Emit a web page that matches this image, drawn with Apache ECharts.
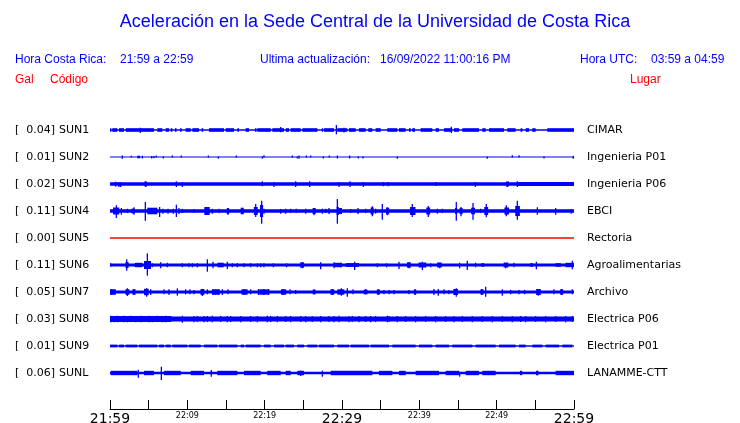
<!DOCTYPE html>
<html>
<head>
<meta charset="utf-8">
<script src="https://cdn.jsdelivr.net/npm/echarts@6/dist/echarts.min.js"></script>
<style>
html,body{margin:0;padding:0;background:#fff;}
#chart{width:740px;height:423px;}
</style>
</head>
<body>
<div id="chart"></div>
<script>
// ---------------- DATA ----------------
const stations = ['SUN1','SUN2','SUN3','SUN4','SUN5','SUN6','SUN7','SUN8','SUN9','SUNL'];
const places = ['CIMAR','Ingenieria P01','Ingenieria P06','EBCI','Rectoria','Agroalimentarias','Archivo','Electrica P06','Electrica P01','LANAMME-CTT'];
const galValues = ['0.04','0.01','0.02','0.11','0.00','0.11','0.05','0.03','0.01','0.06'];
const tickLabels = ['21:59','22:09','22:19','22:29','22:39','22:49','22:59'];
const majorLabels = ['21:59','22:29','22:59'];
// minutes after 21:59 ; trace half-widths (axis units)
const baseHalf = [0.65, 0.6, 1.8, 1.7, 0.75, 1.5, 1.5, 2.4, 0.8, 1.3];
const burstHalf = [1.8, 1.3, 2.1, 0, 0, 0, 0, 3.0, 1.4, 2.2];

// bursts: [t0, t1] or [t0, t1, half]
const burstsSUN1 = [[0,0.17],[0.3,0.95],[1.16,1.81],[2.03,5.69],[6.12,6.77],[7.2,7.63],[7.85,8.06],[8.4,8.6],[9.05,9.25],[9.78,10.43],[10.65,11.51],[11.85,12.05],[12.8,14.74],[14.96,16.03],[16.46,16.68],[17.54,17.98],[18.75,18.95],[19.05,20.78],[20.99,22.5],[22.72,23.15],[23.36,24.66],[24.87,26.81],[27.4,27.55],[27.68,28.97],[29.4,30.69],[30.9,31.77],[32.2,33.06],[33.4,33.92],[34.35,35],[35.86,37.15],[37.37,38.23],[38.66,38.88],[39.09,39.44],[40.17,41.68],[42.11,42.54],[43.19,44.27],[44.48,45.13],[45.56,47.71],[48.14,48.58],[49.01,50.95],[51.38,52.45],[53.1,53.32],[53.75,54.18],[54.61,55.04],[56.55,60]];
const burstsSUN2 = [[3.53,3.88]];
const burstsSUN3 = [[4.45,4.75,2.5],[51.2,51.6,2.5],[52.7,60]];
const burstsSUN4 = [[0.4,1.2,3.5],[2.8,3.2,2.5],[4.83,6.12,3.3],[12.2,12.9,4],[15.1,15.4,3],[16.9,17.3,3.3],[18.6,19.1,4],[19.4,19.8,6],[26.2,26.6,3],[29.3,29.6,4],[29.6,30.0,3],[33.7,34.1,3.5],[35.7,36.1,3.3],[38.8,39.5,4],[40.9,41.4,3.5],[44.6,44.9,3],[45.2,45.6,3],[46.7,47.2,3.3],[48.4,48.9,4],[51.0,51.6,3.5],[52.4,53.0,5]];
const burstsSUN5 = [];
const burstsSUN6 = [[2.0,2.4,3],[3.2,4.2,2.2],[4.4,5.3,4],[13.9,14.7,2.3],[24.6,25.1,2.7],[29.0,30.0,2.2],[30.5,32.2,1.9],[38.4,38.9,2.7],[39.9,40.9,2.5],[42.3,42.9,2.5],[48.0,48.4,1.8],[50.9,51.5,2.5],[54.3,54.7,1.8],[57.6,58.3,1.8],[58.9,60,2.2]];
const burstsSUN7 = [[0,0.75,2.8],[2.0,2.5,2.8],[2.9,3.3,2.8],[4.4,5.0,3.2],[11.7,12.2,3],[13.2,14.2,2.7],[17.0,17.8,2.7],[19.3,20.6,2.7],[22.1,22.8,2.7],[26.2,26.6,2.3],[28.5,29.0,2.7],[29.4,30.3,2.7],[32.8,33.3,2.3],[34.5,34.9,2.5],[39.3,39.6,2.5],[44.4,45.0,3],[47.9,48.3,2.7],[55.1,55.7,3],[58.2,58.6,2.7]];
const burstsSUN8 = [[0,7.9]];
const burstsSUN9 = [[0,0.95],[1.16,1.81],[2.03,3.53],[3.75,6.12],[6.34,6.98],[7.2,7.85],[8.06,10],[10.21,11.72],[12.16,13.88],[14.09,16.46],[16.9,17.33],[17.54,19.48],[19.91,20.78],[21.21,22.5],[22.72,23.79],[24.22,25.09],[25.52,26.81],[27.03,28.97],[29.4,30.9],[31.12,33.49],[33.7,36.08],[36.51,39.52],[39.95,41.68],[42.11,43.83],[44.27,46.85],[47.28,49.87],[50.3,52.45],[52.89,53.75],[54.61,55.9],[56.33,58.06],[58.49,59.78]];
const burstsSUNL = [[0.09,3.53],[4.4,5.69],[6.98,9.14],[10.43,12.16],[13.88,16.46],[17.33,19.48],[20.34,22.07],[22.72,23.36],[24.22,25.09],[28.54,33.92],[34.78,36.51],[37.37,38.23],[39.52,42.54],[43.4,45.13],[45.99,47.71],[48.14,49.87],[53.0,53.3],[55.1,55.4],[57.63,60]];

// spikes: [t, up, down]
const spikesSUN1 = [[3.92,2.3,3],[22.07,3,2.3],[29.27,5,4.3],[30.26,2.3,2.5],[44.14,3.3,3]];
const spikesSUN2 = [[1.59,1.5,1.7],[2.76,1.2,0.6],[4.18,1.2,1.5],[5.39,0.9,1.5],[5.69,0.9,1.2],[5.99,1.5,0.6],[6.9,0,1.5],[8.06,1.5,0.6],[9.22,1.5,0.6],[12.72,1.5,0.6],[14.01,0,1.8],[16.34,1.5,0.6],[19.7,0,1.8],[19.91,1.8,0.6],[23.58,1.5,0.6],[24.22,0,1.5],[24.44,1.5,1.8],[25.39,1.5,0.6],[25.95,1.5,0.6],[27.59,0,1.5],[28.36,1.5,0.6],[29.4,1.5,1.5],[30.99,1.5,1.5],[32.11,0,1.5],[32.71,0,1.5],[37.15,0,1.8],[48.79,0,1.8],[52.02,1.8,0],[52.89,1.8,0],[56.12,0,1.5],[59.91,1.2,1.8]];
const spikesSUN3 = [[0.73,2.3,2.7],[1.16,1.7,3],[1.38,1,3],[4.61,2.7,3],[8.58,2.7,3],[9.35,2,3],[19.7,2.7,2.3],[21.21,0.7,3],[24.01,2.7,3],[25.82,2.7,3],[29.61,2,3],[31.03,2.7,3],[32.76,2,3],[35.34,2,2.3],[35.99,2,2.3],[42.2,2,2],[47.24,2,3],[51.38,2.3,3],[52.67,2.7,3]];
const spikesSUN4 = [[0.82,5.7,7],[1.47,3,3.7],[2.24,2.3,2],[3.1,3.7,3.7],[4.57,9,9.7],[6.42,4,6],[6.85,2.3,2.7],[7.5,2.3,2.7],[8.19,2.3,2.7],[8.58,6.3,6],[8.92,3,3],[9.35,2.3,2],[10.86,2,1.3],[13.23,2.3,2.7],[14.09,2.3,2],[15.26,3,3.7],[18.84,7,6],[19.61,10.3,12.7],[19.91,2.3,2.7],[22.07,2,2.7],[22.72,2.3,2.7],[23.36,2.3,2],[24.09,2.3,2],[25.3,2.3,2.7],[26.38,3,4.3],[27.46,2.3,2.7],[27.89,2.3,2],[28.32,3,3],[29.4,12,12.7],[31.12,2,2],[32.07,3,3],[33.06,2.3,2],[33.92,4.7,5.3],[34.35,2.3,2.7],[35.21,7,8.7],[35.86,3.7,4.3],[39.09,7,6],[41.16,5,6],[42.33,2.3,2.7],[42.97,2.3,2],[44.78,9,9.7],[45.39,4,5.3],[46.94,8,8.7],[47.93,2.3,2],[48.66,7,6.3],[51.25,5.7,5.3],[52.67,10.3,8.7],[55.26,3.7,3.7],[57.63,3,3.7],[59.65,1.3,2.7]];
const spikesSUN5 = [];
const spikesSUN6 = [[0.1,1.7,1.7],[2.16,5.7,5.7],[4.83,11.7,10.7],[5.47,1.7,2.3],[6.55,2.7,3.3],[7.41,2.3,2.3],[9.35,1.7,2.3],[10.2,1.7,2.3],[10.65,1.7,2.3],[11.3,1.7,2.3],[12.59,5.7,6.7],[13.32,3.3,3.3],[15.17,3.3,4],[15.82,1.7,2.3],[16.46,1.7,2.3],[17.33,1.7,2.3],[18.19,1.7,2.3],[19.05,1.7,2.3],[19.48,1.7,2.3],[19.91,1.7,2.3],[21.12,1.7,2.3],[22.84,1.7,2.3],[24.87,2.7,3.3],[27.24,2.7,4.3],[28.97,2.7,3.3],[29.83,2.3,2.3],[31.64,3.3,5],[34.57,1.7,2.3],[35.77,1.7,2.3],[37.37,3.3,4],[38.66,2.7,3.3],[40.39,3.3,5],[41.46,1.7,2.3],[42.63,2.3,3.3],[45.21,2.3,3.3],[46.2,4.3,5],[47.28,2.3,2.3],[51.16,1.7,3.3],[52.24,2.3,2.3],[55.13,3.3,4.3],[59.78,4.3,4.3]];
const spikesSUN7 = [[0.2,2.7,3],[2.24,3.7,4],[3.1,2.7,3],[4.74,3.7,4.7],[5.26,2.7,3],[6.98,2.7,2.3],[7.63,2.7,3],[8.71,3.7,3.7],[9.78,2.7,2.3],[10.34,2.7,2.3],[10.86,2,2.3],[11.94,3,4],[12.59,2.7,2.3],[13.3,2.7,3],[13.66,2.7,3],[14.0,2.7,3],[14.53,2.7,3],[15.26,2.7,2.3],[17.33,3,3],[18.19,2.7,2.3],[19.2,3,3],[19.91,3,3],[20.5,3,3],[22.41,3,3],[23.28,2.7,2.3],[24.01,2,2],[26.38,2.7,2.3],[28.75,3,3],[29.91,3.7,3.7],[30.69,3.7,4.7],[31.42,2.7,2.3],[33.06,3,2.3],[34.7,2.7,3],[35.43,2,2.3],[36.08,2,2.3],[36.72,2,2.3],[38.66,2,2.3],[39.44,2.7,3],[41.89,3,3],[42.45,3,3.7],[43.19,2.7,2.3],[43.83,2,2.3],[44.78,3.7,4.7],[48.06,3,3],[48.58,5.3,4.7],[50.73,2.7,3.7],[51.81,2,2.3],[52.89,2,2.3],[53.62,2,2.3],[55.39,3,3.7],[57.41,2.7,2.3],[58.4,3,3],[59.78,2.7,2.3]];
const spikesSUN8 = [[0.09,3.3,3.3],[0.52,3,3.3],[0.95,3.3,3.3],[1.38,3,3],[1.81,3.3,3.3],[2.24,3,3.3],[2.67,3.3,3],[3.32,3,3.3],[3.97,3.3,3.3],[4.61,3,3],[5.04,3.3,3.3],[5.47,3,3.3],[6.12,3.3,3],[6.77,3,3.3],[7.2,3.3,3.3],[7.85,3,3],[9.35,3.3,3.7],[10.86,3,3.3],[11.29,3,3],[12.16,3,3.3],[12.59,3,3],[13.23,3.3,3.3],[14.31,3,3],[15.17,3,3.3],[15.6,3,3],[16.9,3,3.3],[18.19,3,3],[19.05,3,3.3],[20.34,3.3,3.3],[20.78,3,3],[21.64,3,3.3],[22.72,3,3],[23.36,3,3.3],[24.66,3,3],[25.3,3,3.3],[26.16,3,3],[27.24,3,3.3],[28.32,3,3],[28.97,3,3.3],[29.61,3.3,3.3],[30.9,3,3.3],[31.33,3,3],[32.2,3,3.3],[33.06,3,3],[33.7,3,3.3],[34.35,3,3],[35.86,3.3,3.3],[36.08,3,3],[37.15,3,3.3],[38.23,3,3],[39.52,3,3.3],[40.82,3,3],[42.11,3,3.3],[43.4,3,3],[44.48,3,3.3],[45.56,3,3],[46.85,3,3.3],[48.14,3,3],[49.44,3,3.3],[50.73,3,3],[52.02,3,3.3],[53.1,3,3],[53.75,3,3.3],[55.04,3,3],[56.33,3,3.3],[57.63,3,3],[58.92,3,3.3],[59.78,3,3]];
const spikesSUN9 = [];
const spikesSUNL = [[3.66,3.3,4.7],[6.64,6.3,7],[13.1,3,3.7],[24.66,2.3,3],[27.46,2.3,3.7],[45.21,1.3,3.7],[55.26,2.3,2.3]];

const burstsAll = [burstsSUN1,burstsSUN2,burstsSUN3,burstsSUN4,burstsSUN5,burstsSUN6,burstsSUN7,burstsSUN8,burstsSUN9,burstsSUNL];
const spikesAll = [spikesSUN1,spikesSUN2,spikesSUN3,spikesSUN4,spikesSUN5,spikesSUN6,spikesSUN7,spikesSUN8,spikesSUN9,spikesSUNL];

// ---------------- STYLE / LAYOUT ----------------
const BLUE = '#0000ff', RED = '#ff0000';
const traceColors = stations.map(s => s === 'SUN5' ? RED : BLUE);
const ROW = 27;           // axis units between rows
const Y_MAX = 306;        // axis units over the plot height
const rowCenter = i => ROW * (i + 1);

function renderItem(params, api) {
  const t0 = api.value(0), t1 = api.value(1), yc = api.value(2), up = api.value(3), dn = api.value(4);
  const p0 = api.coord([t0, yc - up]);
  const p1 = api.coord([t1, yc + dn]);
  let x = p0[0], w = p1[0] - p0[0];
  if (w < 1.3) { x -= (1.3 - w) / 2; w = 1.3; }
  return { type: 'rect', shape: { x: x, y: p0[1], width: w, height: Math.max(p1[1] - p0[1], 1) },
           style: { fill: api.visual('color') } };
}

const series = stations.map((s, i) => {
  const yc = rowCenter(i);
  const data = [[0, 60, yc, baseHalf[i], baseHalf[i]]];
  burstsAll[i].forEach(b => { const h = b.length > 2 ? b[2] : burstHalf[i]; data.push([b[0], b[1], yc, h, h]); });
  spikesAll[i].forEach(p => data.push([p[0], p[0], yc, Math.max(p[1], baseHalf[i]), Math.max(p[2], baseHalf[i])]));
  return { type: 'custom', name: s, renderItem: renderItem, clip: true, silent: true,
           itemStyle: { color: traceColors[i] }, encode: { x: [0, 1], y: 2 }, data: data, animation: false };
});

const chart = echarts.init(document.getElementById('chart'), null, { renderer: 'canvas' });
const LAB = "'DejaVu Sans', sans-serif";
const HEAD = "'Liberation Sans', Arial, sans-serif";

chart.setOption({
  animation: false,
  backgroundColor: '#fff',
  grid: { left: 110, right: 166, top: 103, bottom: 14, containLabel: false, outerBoundsMode: 'none' },
  xAxis: {
    type: 'value', min: 0, max: 60, interval: 5,
    splitLine: { show: false },
    axisLine: { show: true, onZero: false, lineStyle: { color: '#000', width: 1 } },
    axisTick: { show: true, inside: true, length: 9, lineStyle: { color: '#000', width: 1 } },
    axisLabel: {
      margin: 3, showMinLabel: true, showMaxLabel: true, hideOverlap: false,
      formatter: v => {
        if (v % 10 !== 0) return '';
        const lab = tickLabels[v / 10];
        return majorLabels.includes(lab) ? '{b|' + lab + '}' : '{s|' + lab + '}';
      },
      rich: {
        b: { fontSize: 14, fontFamily: LAB, color: '#000' },
        s: { fontSize: 8, fontFamily: LAB, color: '#000' }
      }
    }
  },
  yAxis: { type: 'value', min: 0, max: Y_MAX, inverse: true, show: false },
  series: series
});

// text elements positioned from the grid mapping
const g = [];
const txt = (x, y, text, font, fill, align) => g.push({ type: 'text', x: x, y: y, silent: true,
  style: { text: text, font: font, fill: fill, textAlign: align || 'left', textVerticalAlign: 'middle' } });

txt(375, 22, 'Aceleración en la Sede Central de la Universidad de Costa Rica', '18px ' + HEAD, BLUE, 'center');
txt(15, 60, 'Hora Costa Rica:', '12px ' + HEAD, BLUE);
txt(120, 60, '21:59 a 22:59', '12px ' + HEAD, BLUE);
txt(260, 60, 'Ultima actualización:', '12px ' + HEAD, BLUE);
txt(380, 60, '16/09/2022 11:00:16 PM', '12px ' + HEAD, BLUE);
txt(580, 60, 'Hora UTC:', '12px ' + HEAD, BLUE);
txt(651, 60, '03:59 a 04:59', '12px ' + HEAD, BLUE);
txt(15, 80, 'Gal', '12px ' + HEAD, RED);
txt(50, 80, 'Código', '12px ' + HEAD, RED);
txt(630, 80, 'Lugar', '12px ' + HEAD, RED);

stations.forEach((s, i) => {
  const y = chart.convertToPixel({ gridIndex: 0 }, [0, rowCenter(i)])[1] + 0.5;
  txt(15, y, '[', '11px ' + LAB, '#000');
  txt(55, y, galValues[i] + ']', '11px ' + LAB, '#000', 'right');
  txt(59, y, s, '11px ' + LAB, '#000');
  txt(587, y, places[i], '11px ' + LAB, '#000');
});
chart.setOption({ graphic: { elements: g } });
</script>
</body>
</html>
